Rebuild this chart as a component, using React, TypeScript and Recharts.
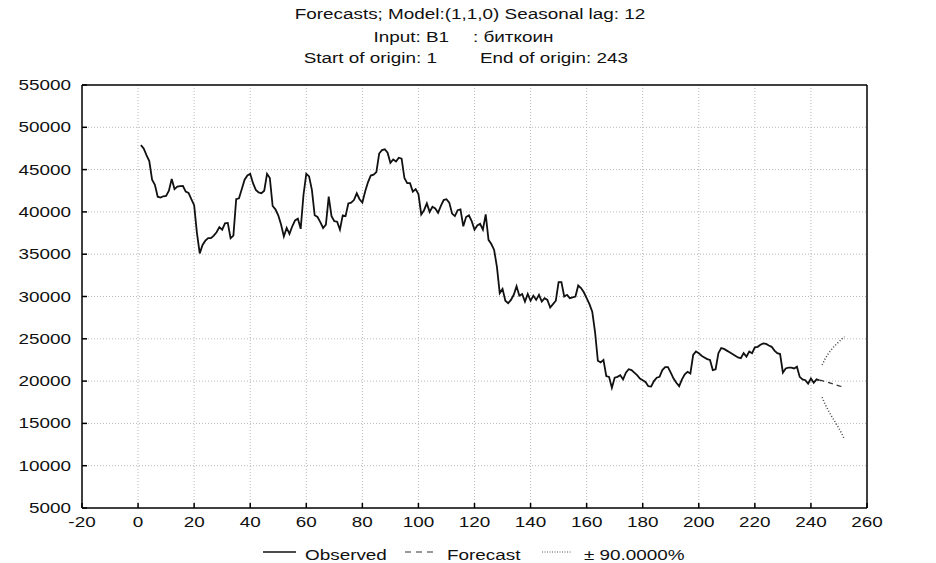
import React from 'react';
import { LineChart, Line, XAxis, YAxis, CartesianGrid, ReferenceLine } from 'recharts';

// observed series, index 1..243
const observed = [
  47900, 47500, 46700, 46000, 43800, 43200, 41800, 41700, 41850, 41900,
  42500, 43900, 42700, 43000, 43050, 43060, 42400, 42250, 41500, 40800,
  37500, 35100, 36100, 36600, 36900, 36900, 37200, 37600, 38200, 37900,
  38650, 38700, 36900, 37200, 41500, 41600, 42700, 43800, 44300, 44500,
  43400, 42600, 42300, 42200, 42500, 44500, 44000, 40700, 40300, 39600,
  38500, 37100, 38100, 37400, 38300, 39000, 39200, 38000, 42000, 44500,
  44200, 42600, 39600, 39400, 38800, 38100, 38500, 41800, 39500, 38900,
  38840, 37900, 39600, 39500, 41000, 41100, 41400, 42200, 41500, 41100,
  42400, 43500, 44300, 44400, 44700, 46900, 47300, 47400, 47000, 45800,
  46200, 45950, 46400, 46300, 44000, 43400, 43400, 42400, 42700, 42100,
  39700, 40200, 41000, 40000, 40600, 40400, 39900, 40700, 41400, 41500,
  41100, 39800, 39500, 40200, 40300, 38300, 39400, 39600, 38900, 37900,
  38400, 38600, 37900, 39700, 36700, 36200, 35500, 33500, 30400, 30900,
  29500, 29200, 29600, 30200, 31200, 30100, 30300, 29400, 30300, 29500,
  30100, 29600, 30200, 29400, 29800, 29600, 28700, 29100, 29500, 31700,
  31700, 30000, 30200, 29800, 29900, 30000, 31300, 31000, 30500, 29800,
  29100, 28200, 25800, 22400, 22200, 22500, 20600, 20500, 19200, 20400,
  20500, 20700, 20200, 21000, 21400, 21300, 21000, 20700, 20300, 20100,
  19900, 19400, 19350, 20000, 20400, 20500, 21300, 21650, 21650, 21000,
  20300, 19800, 19400, 20200, 20800, 21100, 20900, 23100, 23500, 23300,
  23000, 22800, 22600, 22500, 21300, 21400, 23300, 23900, 23800, 23600,
  23400, 23200, 23000, 22800, 22700, 23300, 22900, 23500, 23300, 24000,
  24050, 24300, 24450, 24400, 24200, 24050, 23600, 23300, 23200, 21000,
  21500, 21600, 21600, 21500, 21700, 20500, 20200, 20100, 19700, 20300,
  19800, 20200, 20100,
];

// forecast from the last origin (243) to 252
const forecastX = [243, 244, 245, 246, 247, 248, 249, 250, 251, 252];
const forecast = [20100, 20050, 19950, 19850, 19750, 19650, 19550, 19450, 19350, 19200];
// 90% limits, from 244
const upper = [null, 21900, 22600, 23150, 23600, 24000, 24350, 24650, 24950, 25250];
const lower = [null, 18100, 17300, 16650, 16050, 15500, 14950, 14400, 13800, 13100];

const xTicks = [-20, 0, 20, 40, 60, 80, 100, 120, 140, 160, 180, 200, 220, 240, 260];
const yTicks = [5000, 10000, 15000, 20000, 25000, 30000, 35000, 40000, 45000, 50000, 55000];

const rows: any[] = observed.map((v, i) => ({ x: i + 1, obs: v }));
forecastX.forEach((x, k) => {
  const row = rows.find((r) => r.x === x) ?? (rows[rows.length] = { x });
  row.fc = forecast[k];
  if (upper[k] != null) row.up = upper[k];
  if (lower[k] != null) row.lo = lower[k];
});

const FONT = 'Arial, "Liberation Sans", sans-serif';
const STRETCH = 1.26;

const SText = ({ x, y, anchor = 'start', children }: any) => (
  <text
    transform={`translate(${x},${y}) scale(${STRETCH},1)`}
    textAnchor={anchor}
    fontFamily={FONT}
    fontSize={15}
    fill="#111"
  >
    {children}
  </text>
);

const LeftTick = ({ x, y, payload }: any) => (
  <SText x={x} y={y + 5} anchor="end">{payload.value}</SText>
);
const RightTick = ({ x, y, payload }: any) => (
  <SText x={x} y={y + 5} anchor="start">{payload.value}</SText>
);
const BottomTick = ({ x, y, payload }: any) => (
  <SText x={x} y={y + 19} anchor="middle">{payload.value}</SText>
);

export default function App() {
  return (
    <div style={{ position: 'fixed', top: 0, left: 0, width: 936, height: 563, background: '#fff' }}>
      <LineChart
        width={936}
        height={563}
        data={rows}
        margin={{ top: 85, right: 0, bottom: 0, left: 0 }}
      >
        <CartesianGrid
          yAxisId="left"
          stroke="#b8b8b8"
          strokeDasharray="1 2"
          horizontalValues={yTicks.slice(1, -1)}
          verticalValues={xTicks.slice(1, -1)}
        />
        <XAxis
          dataKey="x"
          type="number"
          domain={[-20, 260]}
          ticks={xTicks}
          allowDataOverflow
          stroke="#000"
          strokeWidth={1.5}
          tickSize={-5}
          tickMargin={5}
          tick={<BottomTick />}
          height={55}
        />
        <YAxis
          yAxisId="left"
          domain={[5000, 55000]}
          ticks={yTicks}
          width={82}
          stroke="#000"
          strokeWidth={1.5}
          tickSize={-5}
          tickMargin={16}
          tick={<LeftTick />}
        />
        <YAxis
          yAxisId="right"
          orientation="right"
          domain={[5000, 55000]}
          ticks={yTicks}
          width={69}
          stroke="#000"
          strokeWidth={1.5}
          tickSize={-5}
          tickMargin={15}
          tick={<RightTick />}
        />
        <ReferenceLine yAxisId="left" y={55000} stroke="#000" strokeWidth={1.5} />
        <Line
          yAxisId="left"
          dataKey="obs"
          stroke="#111"
          strokeWidth={1.8}
          dot={false}
          activeDot={false}
          isAnimationActive={false}
        />
        <Line
          yAxisId="left"
          dataKey="fc"
          stroke="#333"
          strokeWidth={1.3}
          strokeDasharray="5 4"
          dot={false}
          activeDot={false}
          isAnimationActive={false}
        />
        <Line
          yAxisId="left"
          dataKey="up"
          stroke="#444"
          strokeWidth={1.5}
          strokeDasharray="1 2"
          dot={false}
          activeDot={false}
          isAnimationActive={false}
        />
        <Line
          yAxisId="left"
          dataKey="lo"
          stroke="#444"
          strokeWidth={1.5}
          strokeDasharray="1 2"
          dot={false}
          activeDot={false}
          isAnimationActive={false}
        />
      </LineChart>

      <svg
        width={936}
        height={563}
        style={{ position: 'absolute', top: 0, left: 0, pointerEvents: 'none' }}
      >
        <SText x={470} y={19} anchor="middle">Forecasts; Model:(1,1,0) Seasonal lag: 12</SText>
        <SText x={449} y={42} anchor="end">Input: B1</SText>
        <SText x={473} y={42} anchor="start">: биткоин</SText>
        <SText x={437} y={63} anchor="end">Start of origin: 1</SText>
        <SText x={480} y={63} anchor="start">End of origin: 243</SText>

        <line x1={263} x2={296} y1={552} y2={552} stroke="#111" strokeWidth={1.3} />
        <SText x={305} y={560}>Observed</SText>
        <line x1={405} x2={436} y1={552} y2={552} stroke="#333" strokeWidth={1.2} strokeDasharray="6 5" />
        <SText x={447} y={560}>Forecast</SText>
        <line x1={542} x2={572} y1={552} y2={552} stroke="#555" strokeWidth={1} strokeDasharray="1 1.5" />
        <SText x={584} y={560}>± 90.0000%</SText>
      </svg>
    </div>
  );
}
